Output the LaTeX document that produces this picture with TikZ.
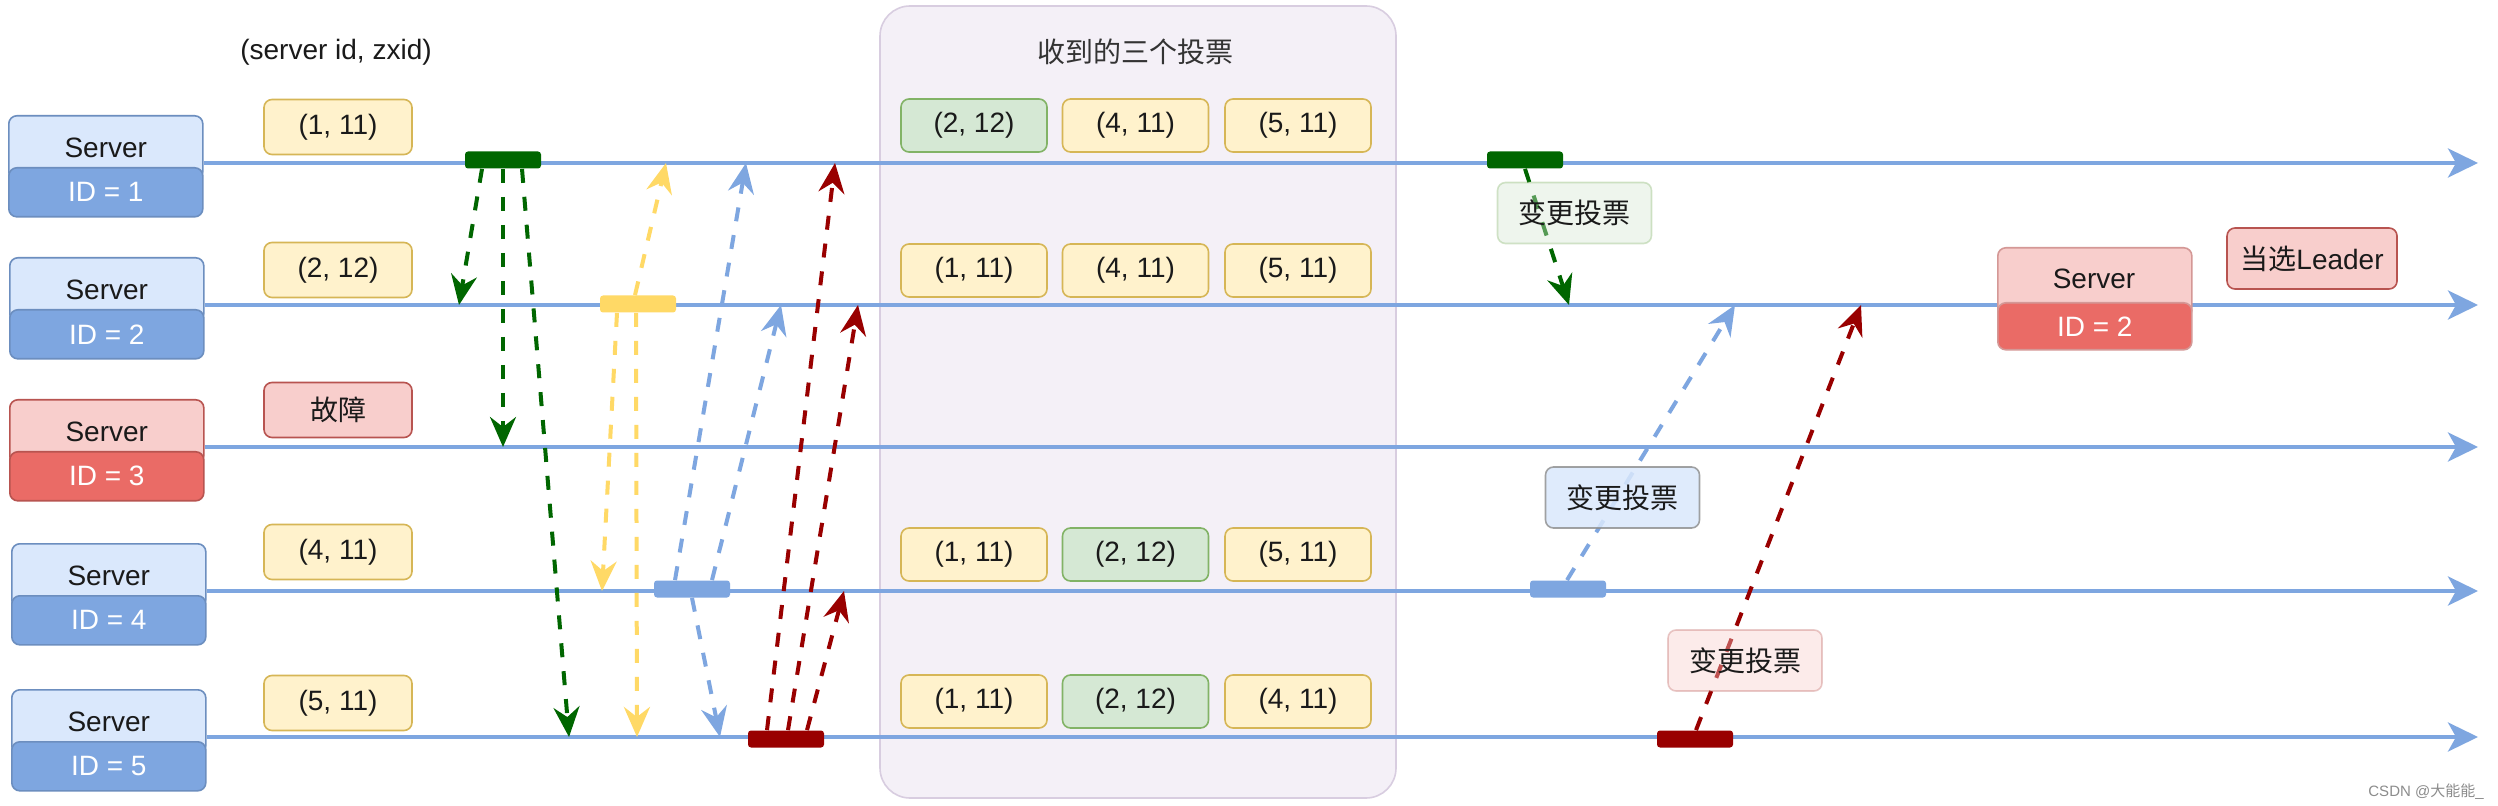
\documentclass[tikz,border=0pt]{standalone}
\usepackage{fontspec}
\setmainfont{Liberation Sans}
\newfontfamily\cjk{Noto Sans CJK SC}
\usetikzlibrary{arrows.meta,calc}
\definecolor{lnblue}{HTML}{7EA6E0}
\definecolor{sblue}{HTML}{DAE8FC}
\definecolor{sbluebd}{HTML}{6C8EBF}
\definecolor{sred}{HTML}{F8CECC}
\definecolor{sredbd}{HTML}{B85450}
\definecolor{sreddk}{HTML}{EA6B66}
\definecolor{vyel}{HTML}{FFF2CC}
\definecolor{vyelbd}{HTML}{D6B656}
\definecolor{vgrn}{HTML}{D5E8D4}
\definecolor{vgrnbd}{HTML}{82B366}
\definecolor{dgreen}{HTML}{006600}
\definecolor{yel}{HTML}{FFD966}
\definecolor{dred}{HTML}{990000}
\definecolor{panelfill}{HTML}{F4F0F7}
\definecolor{panelbd}{HTML}{D8CDE0}
\definecolor{txt}{HTML}{1A1A1A}
\tikzset{
  txtfont/.style={font=\fontsize{14}{16}\selectfont},
  vbox/.style={txtfont, text=txt, draw=vyelbd, fill=vyel, rounded corners=4pt, line width=0.8pt, minimum width=73pt, minimum height=26.5pt, inner sep=0pt},
  gbox/.style={vbox, draw=vgrnbd, fill=vgrn},
  rbox/.style={vbox, draw=sredbd, fill=sred},
  lbox/.style={vbox, minimum width=74pt, minimum height=27.5pt},
  srvtop/.style={txtfont, text=txt, rounded corners=4pt, line width=0.8pt, minimum width=97pt, minimum height=32pt, anchor=north west, inner sep=0pt},
  srvbot/.style={txtfont, text=white, rounded corners=4pt, line width=0.8pt, minimum width=97pt, minimum height=24.5pt, anchor=north west, inner sep=0pt},
  tl/.style={draw=lnblue, line width=2pt, -{Stealth[length=15pt,width=14.5pt,inset=4pt]}},
  bar/.style={minimum width=38pt, minimum height=8.5pt, rounded corners=1.5pt, inner sep=0pt},
  da/.style={line width=2pt, dash pattern=on 7pt off 7pt, -{Stealth[length=15pt,width=13pt,inset=5pt]}},
  chg/.style={txtfont, text=txt, rounded corners=4pt, line width=0.8pt, minimum width=77pt, minimum height=30.5pt, inner sep=0pt, text opacity=1},
}
\newcommand\srvbox[6]{%
  \node[srvtop, fill=#4, draw=#5] (#1top) at (#2,#3-48) {Server};
  \node[srvbot, fill=#6, draw=#5] (#1id) at (#2,#3+4) {ID = #1};
}
\begin{document}
\begin{tikzpicture}[x=0.5pt,y=-0.5pt]
\useasboundingbox (0,0) rectangle (2498,806);
\fill[white] (0,0) rectangle (2498,806);

% panel
\node[draw=panelbd, fill=panelfill, line width=0.8pt, rounded corners=15pt, minimum width=258pt, minimum height=396pt, inner sep=0pt] (panel) at (1138,402) {};
\node[txtfont, text=black!80] (ptitle) at (1135,52) {\cjk 收到的三个投票};
\node[txtfont, text=txt] (hdr) at (336,52) {(server id, zxid)};

% servers
\srvbox{1}{8}{163}{sblue}{sbluebd}{lnblue}
\srvbox{2}{9}{305}{sblue}{sbluebd}{lnblue}
\srvbox{3}{9}{447}{sred}{sredbd}{sreddk}
\srvbox{4}{11}{591}{sblue}{sbluebd}{lnblue}
\srvbox{5}{11}{737}{sblue}{sbluebd}{lnblue}

% timelines
\coordinate (e1) at (2478,163);
\coordinate (e2) at (2478,305);
\coordinate (e3) at (2478,447);
\coordinate (e4) at (2478,591);
\coordinate (e5) at (2478,737);
\draw[tl] (1id.north east |- e1) -- (e1);
\draw[tl] (2id.north east |- e2) -- (e2);
\draw[tl] (3id.north east |- e3) -- (e3);
\draw[tl] (4id.north east |- e4) -- (e4);
\draw[tl] (5id.north east |- e5) -- (e5);

% leader server
\node[srvtop, fill=sred, draw=sredbd!60, minimum height=35pt] (ltop) at (1997,247) {};
\node[txtfont, text=txt] (ltxt) at (2094,279) {Server};
\node[srvbot, fill=sreddk, draw=sredbd!60, minimum height=23.5pt] (lid) at (1997,302) {ID = 2};
\node[rbox, minimum width=85pt, minimum height=30.5pt] (leader) at (2312,258.5) {{\cjk 当选}Leader};

% initial votes
\node[lbox] (v1) at (338,127) {(1, 11)};
\node[lbox] (v2) at (338,270) {(2, 12)};
\node[lbox, draw=sredbd, fill=sred] (v3) at (338,410) {\cjk 故障};
\node[lbox] (v4) at (338,552) {(4, 11)};
\node[lbox] (v5) at (338,703) {(5, 11)};

% received votes
\node[gbox] (a1) at (974,125.5) {(2, 12)};
\node[vbox] (a2) at (1135.5,125.5) {(4, 11)};
\node[vbox] (a3) at (1298,125.5) {(5, 11)};
\node[vbox] (b1) at (974,270.5) {(1, 11)};
\node[vbox] (b2) at (1135.5,270.5) {(4, 11)};
\node[vbox] (b3) at (1298,270.5) {(5, 11)};
\node[vbox] (c1) at (974,554.5) {(1, 11)};
\node[gbox] (c2) at (1135.5,554.5) {(2, 12)};
\node[vbox] (c3) at (1298,554.5) {(5, 11)};
\node[vbox] (d1) at (974,701.5) {(1, 11)};
\node[gbox] (d2) at (1135.5,701.5) {(2, 12)};
\node[vbox] (d3) at (1298,701.5) {(4, 11)};

% bars
\node[bar, fill=dgreen] (gb1) at (503,160) {};
\node[bar, fill=yel] (yb2) at (638,304) {};
\node[bar, fill=lnblue] (bb4) at (692,589) {};
\node[bar, fill=dred] (rb5) at (786,739) {};
\node[bar, fill=dgreen] (gbr) at (1525,160) {};
\node[bar, fill=lnblue] (bbr) at (1568,589) {};
\node[bar, fill=dred] (rbr) at (1695,739) {};

% arrow targets
\coordinate (g1t) at (459,305);
\coordinate (g2t) at (503,447);
\coordinate (g3t) at (569,737);
\coordinate (y1t) at (666,163);
\coordinate (y2t) at (602,591);
\coordinate (y3t) at (637,737);
\coordinate (b1t) at (746,163);
\coordinate (b2t) at (781,305);
\coordinate (b3t) at (720,737);
\coordinate (r1t) at (835,163);
\coordinate (r2t) at (858,305);
\coordinate (r3t) at (844,591);
\coordinate (gr) at (1569,305);
\coordinate (br) at (1735,305);
\coordinate (rr) at (1861,305);

% vote messages
\draw[da, dgreen] ($(gb1.south)+(-21,0)$) -- (g1t);
\draw[da, dgreen] (gb1.south) -- (g2t);
\draw[da, dgreen] ($(gb1.south)+(19,0)$) -- (g3t);
\draw[da, yel] ($(yb2.north)+(-3,0)$) -- (y1t);
\draw[da, yel] ($(yb2.south)+(-21,0)$) -- (y2t);
\draw[da, yel] ($(yb2.south)+(-2,0)$) -- (y3t);
\draw[da, lnblue] ($(bb4.north)+(-17,0)$) -- (b1t);
\draw[da, lnblue] ($(bb4.north)+(20,0)$) -- (b2t);
\draw[da, lnblue] (bb4.south) -- (b3t);
\draw[da, dred] ($(rb5.north)+(-19,0)$) -- (r1t);
\draw[da, dred] ($(rb5.north)+(2,0)$) -- (r2t);
\draw[da, dred] ($(rb5.north)+(21,0)$) -- (r3t);
\draw[da, dgreen] (gbr.south) -- (gr);
\draw[da, lnblue] ($(bbr.north)+(-1,0)$) -- (br);
\draw[da, dred] ($(rbr.north)+(1,0)$) -- (rr);

% change labels
\node[chg, fill=vgrn, fill opacity=0.4, draw=vgrnbd, draw opacity=0.35] (cg) at (1574.5,213) {\cjk 变更投票};
\node[chg, fill=sblue, fill opacity=0.85, draw=black!45, draw opacity=0.8] (cb) at (1622.5,497.5) {\cjk 变更投票};
\node[chg, fill=sred, fill opacity=0.4, draw=sredbd, draw opacity=0.3] (cr) at (1745,660.5) {\cjk 变更投票};

% watermark
\node[font=\fontsize{7.5}{9}\selectfont, text=black!45] (wm) at (2426,792) {CSDN @{\cjk 大能能}\_};
\end{tikzpicture}
\end{document}
